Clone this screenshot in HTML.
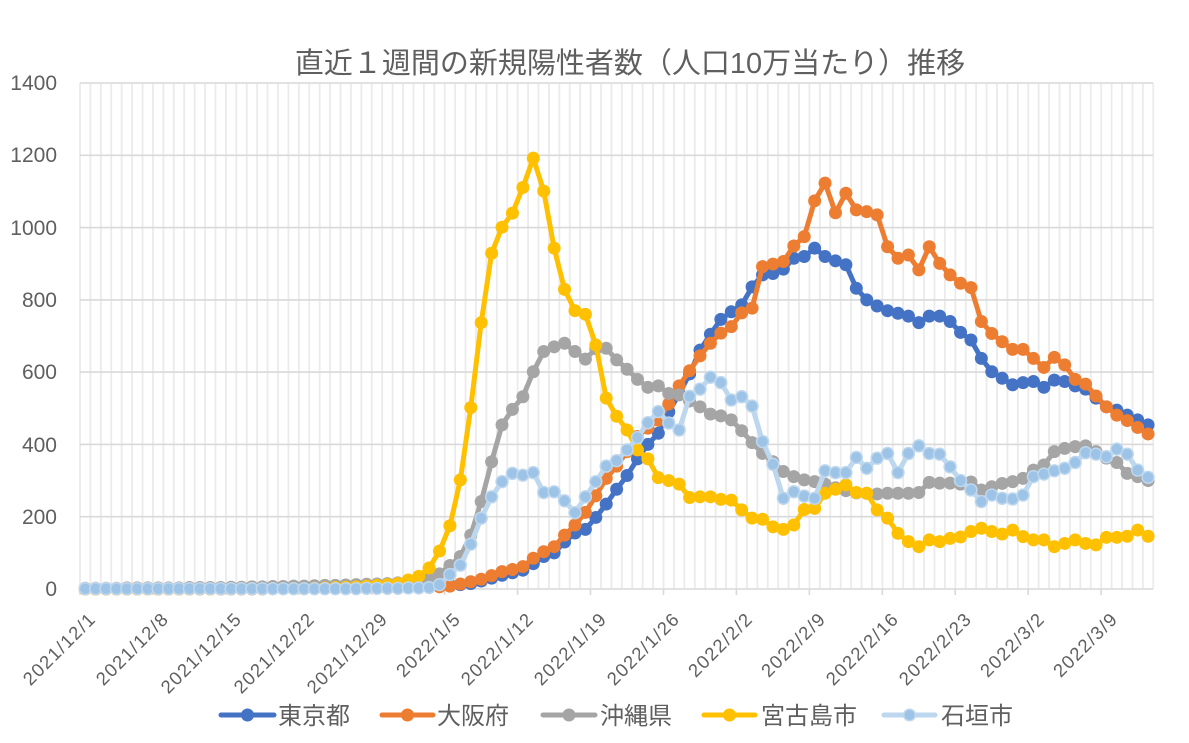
<!DOCTYPE html>
<html><head><meta charset="utf-8"><style>
html,body{margin:0;padding:0;background:#fff;}
svg{display:block;}
text{font-family:"Liberation Sans","Noto Sans CJK JP",sans-serif;fill:#5f5f5f;}
</style></head><body>
<svg width="1189" height="743" viewBox="0 0 1189 743" xmlns="http://www.w3.org/2000/svg">
<defs>
<marker id="mB" markerUnits="userSpaceOnUse" markerWidth="1" markerHeight="1" refX="0" refY="0" style="overflow:visible"><ellipse cx="0" cy="0" rx="0.624" ry="17.98" fill="#4472C4"/></marker>
<marker id="mO" markerUnits="userSpaceOnUse" markerWidth="1" markerHeight="1" refX="0" refY="0" style="overflow:visible"><ellipse cx="0" cy="0" rx="0.624" ry="17.98" fill="#ED7D31"/></marker>
<marker id="mG" markerUnits="userSpaceOnUse" markerWidth="1" markerHeight="1" refX="0" refY="0" style="overflow:visible"><ellipse cx="0" cy="0" rx="0.624" ry="17.98" fill="#A5A5A5"/></marker>
<marker id="mY" markerUnits="userSpaceOnUse" markerWidth="1" markerHeight="1" refX="0" refY="0" style="overflow:visible"><ellipse cx="0" cy="0" rx="0.624" ry="17.98" fill="#FFC000"/></marker>
<marker id="mL" markerUnits="userSpaceOnUse" markerWidth="1" markerHeight="1" refX="0" refY="0" style="overflow:visible"><ellipse cx="0" cy="0" rx="0.643" ry="18.54" fill="#BDD7EE"/><ellipse cx="0" cy="0" rx="0.50" ry="14.39" fill="#9DC3E6"/></marker>
</defs>

<!-- title -->
<text x="630" y="73" text-anchor="middle" style="font-size:29px">直近１週間の新規陽性者数（人口10万当たり）推移</text>

<!-- vertical gridlines -->
<g transform="translate(80 0) scale(10.4204 1)">
<path fill="none" stroke="#EBEBEB" stroke-width="1.8" vector-effect="non-scaling-stroke" d="M0 83V589M1 83V589M2 83V589M3 83V589M4 83V589M5 83V589M6 83V589M7 83V589M8 83V589M9 83V589M10 83V589M11 83V589M12 83V589M13 83V589M14 83V589M15 83V589M16 83V589M17 83V589M18 83V589M19 83V589M20 83V589M21 83V589M22 83V589M23 83V589M24 83V589M25 83V589M26 83V589M27 83V589M28 83V589M29 83V589M30 83V589M31 83V589M32 83V589M33 83V589M34 83V589M35 83V589M36 83V589M37 83V589M38 83V589M39 83V589M40 83V589M41 83V589M42 83V589M43 83V589M44 83V589M45 83V589M46 83V589M47 83V589M48 83V589M49 83V589M50 83V589M51 83V589M52 83V589M53 83V589M54 83V589M55 83V589M56 83V589M57 83V589M58 83V589M59 83V589M60 83V589M61 83V589M62 83V589M63 83V589M64 83V589M65 83V589M66 83V589M67 83V589M68 83V589M69 83V589M70 83V589M71 83V589M72 83V589M73 83V589M74 83V589M75 83V589M76 83V589M77 83V589M78 83V589M79 83V589M80 83V589M81 83V589M82 83V589M83 83V589M84 83V589M85 83V589M86 83V589M87 83V589M88 83V589M89 83V589M90 83V589M91 83V589M92 83V589M93 83V589M94 83V589M95 83V589M96 83V589M97 83V589M98 83V589M99 83V589M100 83V589M101 83V589M102 83V589M103 83V589"/>
</g>

<!-- horizontal gridlines -->
<g stroke="#D9D9D9" stroke-width="1.6" fill="none">
<path d="M80 83H1153M80 155.3H1153M80 227.6H1153M80 299.9H1153M80 372.1H1153M80 444.4H1153M80 516.7H1153M80 589H1153"/>
<path d="M80 589V595M152.9 589V595M225.9 589V595M298.8 589V595M371.7 589V595M444.7 589V595M517.6 589V595M590.5 589V595M663.5 589V595M736.4 589V595M809.4 589V595M882.3 589V595M955.2 589V595M1028.2 589V595M1101.1 589V595"/>
</g>

<!-- y labels -->
<g style="font-size:21px" text-anchor="end">
<text x="57" y="90">1400</text>
<text x="57" y="162">1200</text>
<text x="57" y="235">1000</text>
<text x="57" y="307">800</text>
<text x="57" y="379">600</text>
<text x="57" y="452">400</text>
<text x="57" y="524">200</text>
<text x="57" y="596">0</text>
</g>

<!-- x labels -->
<g style="font-size:18.5px;letter-spacing:1.3px" text-anchor="end">
<text transform="translate(97 620) rotate(-45)">2021/12/1</text>
<text transform="translate(170 620) rotate(-45)">2021/12/8</text>
<text transform="translate(243 620) rotate(-45)">2021/12/15</text>
<text transform="translate(316 620) rotate(-45)">2021/12/22</text>
<text transform="translate(389 620) rotate(-45)">2021/12/29</text>
<text transform="translate(462 620) rotate(-45)">2022/1/5</text>
<text transform="translate(535 620) rotate(-45)">2022/1/12</text>
<text transform="translate(608 620) rotate(-45)">2022/1/19</text>
<text transform="translate(681 620) rotate(-45)">2022/1/26</text>
<text transform="translate(754 620) rotate(-45)">2022/2/2</text>
<text transform="translate(827 620) rotate(-45)">2022/2/9</text>
<text transform="translate(900 620) rotate(-45)">2022/2/16</text>
<text transform="translate(973 620) rotate(-45)">2022/2/23</text>
<text transform="translate(1046 620) rotate(-45)">2022/3/2</text>
<text transform="translate(1119 620) rotate(-45)">2022/3/9</text>
</g>

<!-- series -->
<g transform="translate(85.21 589) scale(10.4204 -0.36143)" fill="none" stroke-width="5" stroke-linejoin="round" stroke-linecap="round">
<polyline stroke="#4472C4" vector-effect="non-scaling-stroke" marker-start="url(#mB)" marker-mid="url(#mB)" marker-end="url(#mB)" points="0,1 1,1 2,1 3,1 4,1 5,1 6,1 7,1 8,1 9,1 10,1 11,1 12,1 13,1 14,1 15,1 16,1 17,1 18,1 19,1 20,1 21,2 22,2 23,2 24,2 25,2 26,2 27,3 28,3 29,3 30,4 31,5 32,6 33,7 34,8 35,10 36,12 37,15 38,22 39,30 40,38 41,45 42,52 43,70 44,90 45,100 46,130 47,155 48,165 49,198 50,235 51,276 52,314 53,360 54,400 55,431 56,490 57,540 58,595 59,661 60,705 61,746 62,767 63,786 64,836 65,869 66,873 67,885 68,915 69,920 70,943 71,920 72,908 73,897 74,832 75,800 76,783 77,770 78,763 79,755 80,737 81,755 82,755 83,740 84,710 85,689 86,638 87,601 88,583 89,565 90,571 91,574 92,558 93,578 94,574 95,562 96,553 97,528 98,504 99,495 100,481 101,468 102,454"/>
<polyline stroke="#ED7D31" vector-effect="non-scaling-stroke" marker-start="url(#mO)" marker-mid="url(#mO)" marker-end="url(#mO)" points="0,0 1,0 2,0 3,0 4,0 5,0 6,0 7,0 8,0 9,0 10,0 11,0 12,0 13,0 14,0 15,0 16,0 17,0 18,1 19,1 20,1 21,1 22,1 23,1 24,1 25,1 26,2 27,2 28,2 29,2 30,2 31,3 32,4 33,5 34,6 35,8 36,14 37,20 38,27 39,37 40,48 41,54 42,62 43,85 44,103 45,117 46,149 47,177 48,212 49,258 50,306 51,340 52,380 53,422 54,445 55,467 56,512 57,562 58,604 59,645 60,680 61,708 62,726 63,764 64,777 65,892 66,899 67,906 68,949 69,975 70,1074 71,1123 72,1041 73,1095 74,1049 75,1044 76,1035 77,947 78,915 79,924 80,883 81,947 82,901 83,869 84,846 85,834 86,740 87,707 88,684 89,663 90,663 91,638 92,613 93,641 94,620 95,580 96,567 97,534 98,504 99,481 100,466 101,447 102,429"/>
<polyline stroke="#A5A5A5" vector-effect="non-scaling-stroke" marker-start="url(#mG)" marker-mid="url(#mG)" marker-end="url(#mG)" points="0,2 1,2 2,2 3,2 4,3 5,3 6,3 7,3 8,3 9,3 10,4 11,4 12,4 13,4 14,5 15,5 16,6 17,6 18,7 19,7 20,8 21,8 22,9 23,10 24,10 25,11 26,12 27,13 28,14 29,15 30,17 31,20 32,22 33,28 34,42 35,65 36,90 37,149 38,242 39,352 40,454 41,497 42,532 43,601 44,657 45,670 46,680 47,657 48,636 49,665 50,666 51,634 52,608 53,580 54,558 55,562 56,541 57,537 58,520 59,504 60,484 61,479 62,468 63,438 64,405 65,375 66,352 67,325 68,311 69,302 70,297 71,290 72,280 73,272 74,266 75,265 76,263 77,265 78,265 79,265 80,267 81,295 82,293 83,293 84,290 85,296 86,274 87,283 88,292 89,297 90,306 91,329 92,343 93,380 94,389 95,394 96,396 97,380 98,362 99,350 100,320 101,311 102,300"/>
<polyline stroke="#FFC000" vector-effect="non-scaling-stroke" marker-start="url(#mY)" marker-mid="url(#mY)" marker-end="url(#mY)" points="0,0 1,0 2,0 3,0 4,0 5,0 6,0 7,0 8,0 9,0 10,0 11,0 12,0 13,1 14,1 15,1 16,1 17,1 18,1 19,1 20,1 21,1 22,2 23,3 24,4 25,5 26,6 27,8 28,10 29,12 30,15 31,25 32,35 33,58 34,105 35,175 36,302 37,502 38,737 39,929 40,1001 41,1040 42,1111 43,1192 44,1101 45,943 46,829 47,770 48,760 49,675 50,528 51,478 52,440 53,385 54,360 55,308 56,300 57,290 58,253 59,255 60,255 61,248 62,246 63,219 64,196 65,193 66,172 67,165 68,177 69,220 70,223 71,265 72,276 73,288 74,267 75,265 76,219 77,196 78,154 79,131 80,117 81,136 82,131 83,140 84,144 85,159 86,168 87,159 88,152 89,163 90,145 91,136 92,136 93,117 94,126 95,136 96,126 97,122 98,143 99,143 100,146 101,163 102,146"/>
<polyline stroke="#BDD7EE" vector-effect="non-scaling-stroke" marker-start="url(#mL)" marker-mid="url(#mL)" marker-end="url(#mL)" points="0,1 1,1 2,1 3,1 4,1 5,1 6,1 7,1 8,1 9,1 10,1 11,1 12,1 13,1 14,1 15,1 16,1 17,1 18,1 19,1 20,1 21,1 22,1 23,1 24,1 25,1 26,1 27,2 28,2 29,2 30,2 31,3 32,3 33,4 34,12 35,40 36,66 37,124 38,196 39,255 40,297 41,320 42,315 43,322 44,267 45,269 46,244 47,211 48,255 49,297 50,340 51,355 52,385 53,419 54,460 55,491 56,459 57,440 58,533 59,553 60,586 61,571 62,523 63,532 64,506 65,408 66,345 67,251 68,269 69,257 70,251 71,327 72,322 73,322 74,364 75,334 76,362 77,375 78,322 79,375 80,396 81,375 82,373 83,338 84,300 85,274 86,242 87,260 88,251 89,249 90,260 91,311 92,318 93,327 94,334 95,350 96,377 97,373 98,366 99,387 100,373 101,329 102,309"/>
</g>

<!-- legend -->
<g stroke-width="5" stroke-linecap="round">
<line x1="221" y1="715" x2="274" y2="715" stroke="#4472C4"/><circle cx="247.5" cy="715" r="6.5" fill="#4472C4" stroke="none"/>
<line x1="382" y1="715" x2="433" y2="715" stroke="#ED7D31"/><circle cx="407.5" cy="715" r="6.5" fill="#ED7D31" stroke="none"/>
<line x1="543" y1="715" x2="595" y2="715" stroke="#A5A5A5"/><circle cx="569" cy="715" r="6.5" fill="#A5A5A5" stroke="none"/>
<line x1="704" y1="715" x2="755" y2="715" stroke="#FFC000"/><circle cx="729.5" cy="715" r="6.5" fill="#FFC000" stroke="none"/>
<line x1="884" y1="715" x2="935" y2="715" stroke="#BDD7EE"/><circle cx="909.5" cy="715" r="6.5" fill="#BDD7EE" stroke="none"/><circle cx="909.5" cy="715" r="5" fill="#9DC3E6" stroke="none"/>
</g>
<g style="font-size:24px">
<text x="278" y="724">東京都</text>
<text x="437" y="724">大阪府</text>
<text x="600" y="724">沖縄県</text>
<text x="761" y="724">宮古島市</text>
<text x="941" y="724">石垣市</text>
</g>
</svg>
</body></html>
